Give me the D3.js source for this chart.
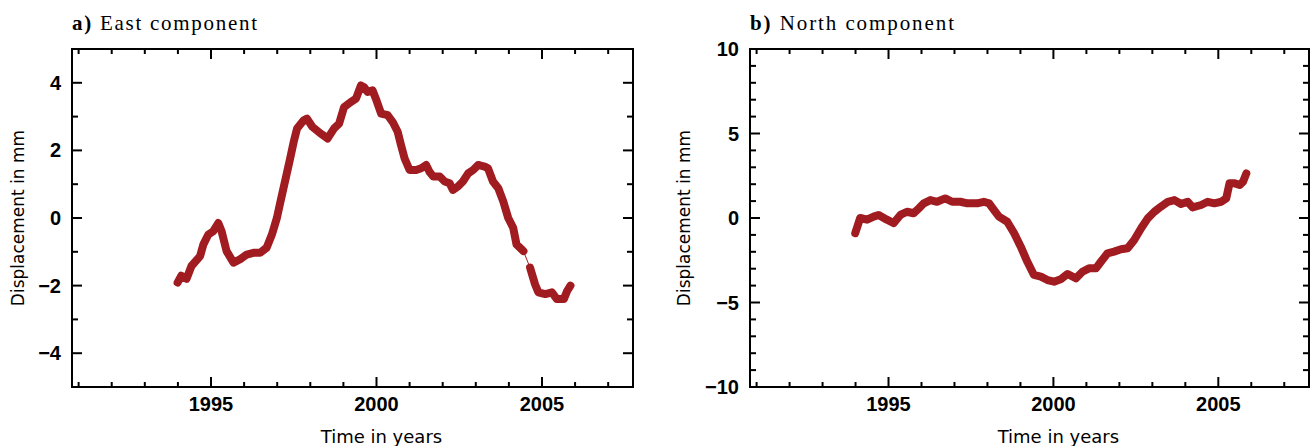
<!DOCTYPE html>
<html>
<head>
<meta charset="utf-8">
<script src="https://cdn.jsdelivr.net/npm/d3@7"></script>
<style>
  body { margin: 0; background: #fff; }
  svg { display: block; }
</style>
</head>
<body>
<svg id="viewport"></svg>
<script>
// East component (mm)
const eastYears = [1993.99, 1994.1, 1994.26, 1994.41, 1994.67, 1994.77, 1994.92, 1995.07, 1995.22, 1995.32,
  1995.47, 1995.68, 1995.88, 1996.08, 1996.28, 1996.48, 1996.68, 1996.84, 1996.99, 1997.09,
  1997.39, 1997.5, 1997.6, 1997.8, 1997.9, 1998.06, 1998.31, 1998.46, 1998.52, 1998.72,
  1998.87, 1999.02, 1999.22, 1999.38, 1999.53, 1999.63, 1999.73, 1999.88, 1999.98, 2000.14,
  2000.34, 2000.49, 2000.64, 2000.74, 2000.85, 2001.0, 2001.2, 2001.35, 2001.5, 2001.6,
  2001.71, 2001.91, 2002.06, 2002.21, 2002.31, 2002.46, 2002.61, 2002.77, 2002.92, 2003.07,
  2003.27, 2003.37, 2003.52, 2003.68, 2003.83, 2003.98, 2004.13, 2004.23, 2004.44,
  2004.64, 2004.79, 2004.89, 2005.1, 2005.3, 2005.45, 2005.66, 2005.76, 2005.86];
const eastMm = [-1.91, -1.71, -1.8, -1.42, -1.13, -0.78, -0.49, -0.39, -0.15, -0.39,
  -0.98, -1.32, -1.22, -1.08, -1.03, -1.03, -0.88, -0.49, 0.0, 0.45,
  1.76, 2.26, 2.65, 2.89, 2.94, 2.7, 2.5, 2.4, 2.35, 2.65,
  2.79, 3.28, 3.43, 3.53, 3.92, 3.87, 3.73, 3.78, 3.53, 3.09,
  3.04, 2.84, 2.55, 2.16, 1.76, 1.42, 1.42, 1.47, 1.57, 1.37,
  1.23, 1.23, 1.08, 1.03, 0.83, 0.93, 1.08, 1.32, 1.42, 1.57,
  1.52, 1.47, 1.08, 0.88, 0.49, 0.0, -0.29, -0.78, -0.98,
  -1.47, -1.96, -2.2, -2.25, -2.2, -2.4, -2.4, -2.16, -2.0];
const eastGap = [2004.44, 2004.64]; // short data gap, bridged by a thin line

// North component (mm)
const northYears = [1993.99, 1994.14, 1994.35, 1994.55, 1994.7, 1994.95, 1995.16, 1995.36, 1995.56, 1995.76,
  1995.92, 1996.07, 1996.27, 1996.47, 1996.72, 1996.93, 1997.18, 1997.39, 1997.69, 1997.89,
  1998.05, 1998.2, 1998.35, 1998.6, 1998.81, 1999.01, 1999.21, 1999.41, 1999.62, 1999.82,
  2000.02, 2000.22, 2000.43, 2000.68, 2000.88, 2001.08, 2001.29, 2001.44, 2001.64, 2001.84,
  2002.05, 2002.25, 2002.45, 2002.66, 2002.86, 2003.06, 2003.26, 2003.47, 2003.67, 2003.87,
  2004.07, 2004.22, 2004.48, 2004.68, 2004.88, 2005.09, 2005.24, 2005.34, 2005.5, 2005.65,
  2005.75, 2005.85];
const northMm = [-0.9, 0.0, -0.1, 0.08, 0.18, -0.1, -0.3, 0.18, 0.37, 0.28,
  0.57, 0.87, 1.06, 0.96, 1.16, 0.96, 0.96, 0.87, 0.87, 0.96,
  0.87, 0.47, 0.08, -0.22, -0.9, -1.7, -2.59, -3.37, -3.47, -3.67,
  -3.77, -3.63, -3.31, -3.57, -3.18, -2.98, -2.98, -2.59, -2.09, -1.99,
  -1.85, -1.79, -1.3, -0.61, -0.02, 0.37, 0.67, 0.96, 1.06, 0.83,
  0.96, 0.63, 0.77, 0.96, 0.87, 0.96, 1.16, 2.05, 2.05, 1.95,
  2.15, 2.64];

const yearTicks = [1995, 2000, 2005];
const eastTicks = [-4, -2, 0, 2, 4];
const northTicks = [-10, -5, 0, 5, 10];

const W = 1313, H = 446;
const red = "#a11c21";
const svg = d3.select("#viewport").attr("width", W).attr("height", H);

const drawPanel = (opt) => {
  const { left, right, top, bottom } = opt;
  const x = d3.scaleLinear().domain([1990.8, 2007.75]).range([left, right]);
  const y = d3.scaleLinear().domain(opt.yDomain).range([bottom, top]);
  const g = svg.append("g");

  // minor + major ticks on all four sides, pointing inward
  const minorX = d3.range(1991, 2008).filter((v) => !yearTicks.includes(v));
  const minorY = d3.range(opt.yDomain[0], opt.yDomain[1] + 1, 1).filter((v) => !opt.yTicks.includes(v));
  const tickG = g.append("g").attr("stroke", "#000").attr("stroke-width", 2);
  const addX = (vals, len) => vals.forEach((v) => {
    tickG.append("line").attr("x1", x(v)).attr("x2", x(v)).attr("y1", bottom).attr("y2", bottom - len);
    tickG.append("line").attr("x1", x(v)).attr("x2", x(v)).attr("y1", top).attr("y2", top + len);
  });
  const addY = (vals, len) => vals.forEach((v) => {
    tickG.append("line").attr("y1", y(v)).attr("y2", y(v)).attr("x1", left).attr("x2", left + len);
    tickG.append("line").attr("y1", y(v)).attr("y2", y(v)).attr("x1", right).attr("x2", right - len);
  });
  addX(minorX, 5);
  addX(yearTicks, 10);
  addY(minorY, 6);
  addY(opt.yTicks.filter((v) => v > opt.yDomain[0] && v < opt.yDomain[1]), 10);

  g.append("rect")
    .attr("x", left).attr("y", top)
    .attr("width", right - left).attr("height", bottom - top)
    .attr("fill", "none").attr("stroke", "#000").attr("stroke-width", 2);

  // tick labels
  g.selectAll(".xlab").data(yearTicks).enter().append("text")
    .attr("class", "xlab")
    .attr("x", (d) => x(d)).attr("y", bottom + 24)
    .attr("text-anchor", "middle")
    .attr("font-family", "Liberation Sans, Arial, sans-serif")
    .attr("font-weight", "bold").attr("font-size", 20)
    .text((d) => d);
  g.selectAll(".ylab").data(opt.yTicks).enter().append("text")
    .attr("class", "ylab")
    .attr("x", left - 11).attr("y", (d) => y(d) + 7)
    .attr("text-anchor", "end")
    .attr("font-family", "Liberation Sans, Arial, sans-serif")
    .attr("font-weight", "bold").attr("font-size", 20)
    .text((d) => (d < 0 ? "\u2212" + Math.abs(d) : d));

  // axis titles
  g.append("text")
    .attr("x", x(2000.15)).attr("y", 443)
    .attr("text-anchor", "middle")
    .attr("font-family", "DejaVu Sans, sans-serif").attr("font-size", 18)
    .text("Time in years");
  g.append("text")
    .attr("transform", `translate(${opt.ylabX},${(top + bottom) / 2}) rotate(-90)`)
    .attr("text-anchor", "middle")
    .attr("font-family", "DejaVu Sans, sans-serif").attr("font-size", 17)
    .text("Displacement in mm");

  // panel title
  const t = g.append("text")
    .attr("x", left).attr("y", 30)
    .attr("font-family", "Liberation Serif, Times New Roman, serif").attr("font-size", 21)
    .attr("textLength", opt.titleLen).attr("lengthAdjust", "spacing");
  t.append("tspan").attr("font-weight", "bold").text(opt.letter + ")");
  t.append("tspan").text(" " + opt.title);

  // the series
  const pts = opt.years.map((yr, i) => ({ yr, v: opt.values[i] }));
  const line = d3.line().x((d) => x(d.yr)).y((d) => y(d.v));
  if (opt.gap) {
    g.append("path").datum(pts).attr("d", line)
      .attr("fill", "none").attr("stroke", red).attr("stroke-width", 1);
  }
  const segs = opt.gap
    ? [pts.filter((d) => d.yr <= opt.gap[0]), pts.filter((d) => d.yr >= opt.gap[1])]
    : [pts];
  segs.forEach((s) => {
    g.append("path").datum(s).attr("d", line)
      .attr("fill", "none").attr("stroke", red)
      .attr("stroke-width", 8).attr("stroke-linejoin", "round").attr("stroke-linecap", "round");
  });
};

drawPanel({
  left: 72, right: 633, top: 49, bottom: 387,
  yDomain: [-5, 5], yTicks: eastTicks,
  years: eastYears, values: eastMm, gap: eastGap,
  letter: "a", title: "East component", titleLen: 185, ylabX: 24
});
drawPanel({
  left: 750, right: 1309, top: 49, bottom: 387,
  yDomain: [-10, 10], yTicks: northTicks,
  years: northYears, values: northMm, gap: null,
  letter: "b", title: "North component", titleLen: 204, ylabX: 690
});
</script>
</body>
</html>
